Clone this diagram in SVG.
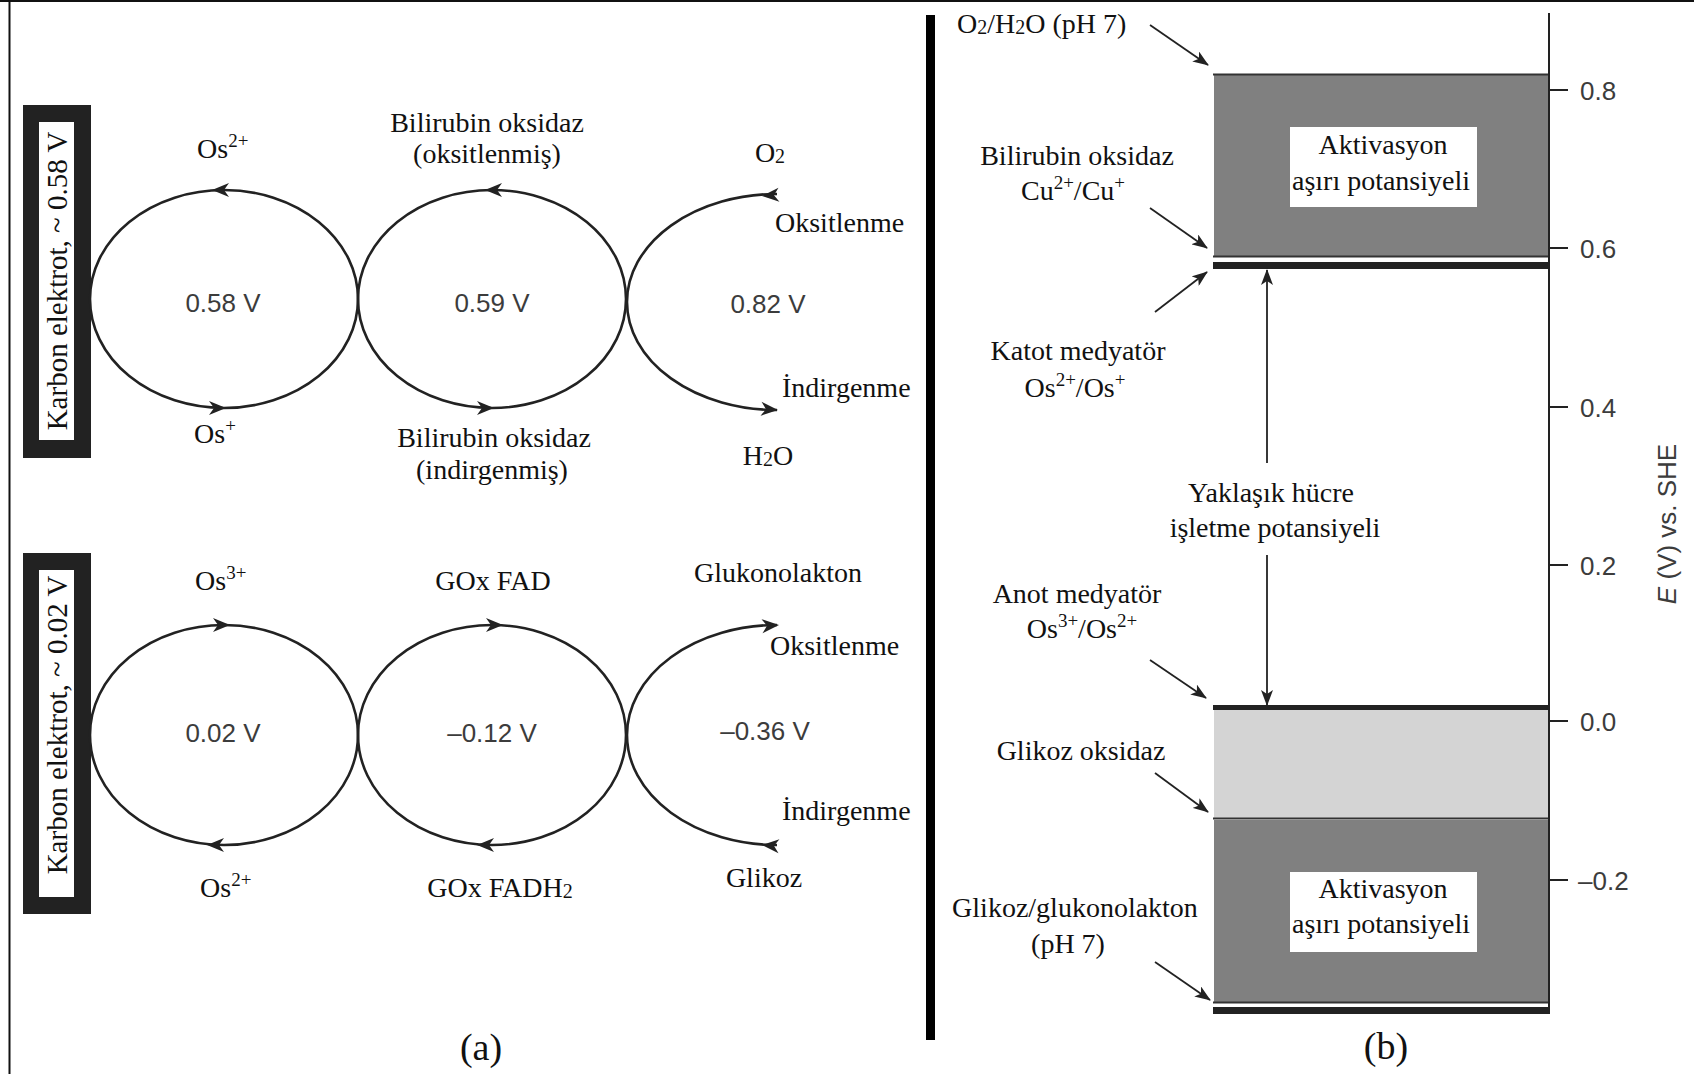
<svg xmlns="http://www.w3.org/2000/svg" xmlns:xlink="http://www.w3.org/1999/xlink" width="1694" height="1074" viewBox="0 0 1694 1074">
<style>
.s{font-family:"Liberation Serif","Times New Roman",serif;font-size:28px;fill:#111}
.n{font-family:"Liberation Sans",Arial,sans-serif;font-size:26px;fill:#3c3c3c}
.c{text-anchor:middle}
.big{font-size:38px}
.el{font-size:29px}
.cyc{fill:none;stroke:#222;stroke-width:2.6}
.ptr{stroke:#222;stroke-width:1.8;fill:none}
.sup{font-size:19px}
.sub{font-size:20px}
</style>
<defs>
<path id="ah" d="M0,0 L-17,-7 L-12,0 L-17,7 Z" fill="#222"/>
<marker id="pm" viewBox="0 0 16 12" refX="15" refY="6" markerWidth="16" markerHeight="12" markerUnits="userSpaceOnUse" orient="auto">
<path d="M0,0 L16,6 L0,12 L4,6 Z" fill="#222"/>
</marker>
</defs>
<rect width="1694" height="1074" fill="#fff"/>
<g id="frame" stroke="#111" stroke-width="2">
<line x1="0" y1="1" x2="1694" y2="1"/>
<line x1="9.5" y1="0" x2="9.5" y2="1074"/>
</g>
<g id="divider"><rect x="926" y="15" width="9" height="1025" fill="#000"/></g>

<g id="electrode-top">
<rect x="23" y="105" width="68" height="353" fill="#222"/>
<rect x="39" y="122" width="35" height="318" fill="#fff"/>
<text class="s c el" transform="translate(67,281) rotate(-90)">Karbon elektrot, ~ 0.58 V</text>
</g>
<g id="electrode-bottom">
<rect x="23" y="553" width="68" height="361" fill="#222"/>
<rect x="39" y="570" width="35" height="327" fill="#fff"/>
<text class="s c el" transform="translate(67,725) rotate(-90)">Karbon elektrot, ~ 0.02 V</text>
</g>

<g id="connectors">
<ellipse class="cyc" cx="224" cy="299" rx="134" ry="109"/>
<ellipse class="cyc" cx="492" cy="299" rx="134" ry="109"/>
<path class="cyc" d="M777,194 A150 108 0 0 0 777,410"/>
<ellipse class="cyc" cx="224" cy="735" rx="134" ry="110"/>
<ellipse class="cyc" cx="492" cy="735" rx="134" ry="110"/>
<path class="cyc" d="M777,625 A150 110 0 0 0 777,845"/>
<use xlink:href="#ah" transform="translate(212,190) rotate(180)"/>
<use xlink:href="#ah" transform="translate(226,408)"/>
<use xlink:href="#ah" transform="translate(485,190) rotate(180)"/>
<use xlink:href="#ah" transform="translate(494,408)"/>
<use xlink:href="#ah" transform="translate(762,196) rotate(176)"/>
<use xlink:href="#ah" transform="translate(778,410) rotate(4)"/>
<use xlink:href="#ah" transform="translate(230,625)"/>
<use xlink:href="#ah" transform="translate(207,845) rotate(180)"/>
<use xlink:href="#ah" transform="translate(503,625)"/>
<use xlink:href="#ah" transform="translate(477,845) rotate(180)"/>
<use xlink:href="#ah" transform="translate(779,625) rotate(-4)"/>
<use xlink:href="#ah" transform="translate(762,845) rotate(184)"/>

<line class="ptr" x1="1150" y1="25" x2="1208" y2="65" marker-end="url(#pm)"/>
<line class="ptr" x1="1150" y1="208" x2="1207" y2="248" marker-end="url(#pm)"/>
<line class="ptr" x1="1155" y1="312" x2="1207" y2="272" marker-end="url(#pm)"/>
<line class="ptr" x1="1150" y1="660" x2="1206" y2="698" marker-end="url(#pm)"/>
<line class="ptr" x1="1155" y1="773" x2="1208" y2="812" marker-end="url(#pm)"/>
<line class="ptr" x1="1155" y1="962" x2="1210" y2="1000" marker-end="url(#pm)"/>
<line class="ptr" x1="1267" y1="463" x2="1267" y2="270" marker-end="url(#pm)"/>
<line class="ptr" x1="1267" y1="555" x2="1267" y2="705" marker-end="url(#pm)"/>
</g>

<g id="cycle-top-labels">
<text class="s" x="197" y="158">Os<tspan class="sup" dy="-11">2+</tspan></text>
<text class="s c" x="487" y="132">Bilirubin oksidaz</text>
<text class="s c" x="487" y="163">(oksitlenmiş)</text>
<text class="s c" x="770" y="162">O<tspan class="sub" dy="1">2</tspan></text>
<text class="s" x="775" y="232">Oksitlenme</text>
<text class="n c" x="223" y="312">0.58 V</text>
<text class="n c" x="492" y="312">0.59 V</text>
<text class="n c" x="768" y="313">0.82 V</text>
<text class="s" x="782" y="397">İndirgenme</text>
<text class="s" x="194" y="443">Os<tspan class="sup" dy="-11">+</tspan></text>
<text class="s c" x="494" y="447">Bilirubin oksidaz</text>
<text class="s c" x="492" y="479">(indirgenmiş)</text>
<text class="s c" x="768" y="465">H<tspan class="sub" dy="1">2</tspan><tspan dy="-1">O</tspan></text>
</g>

<g id="cycle-bottom-labels">
<text class="s" x="195" y="590">Os<tspan class="sup" dy="-11">3+</tspan></text>
<text class="s c" x="493" y="590">GOx FAD</text>
<text class="s c" x="778" y="582">Glukonolakton</text>
<text class="s" x="770" y="655">Oksitlenme</text>
<text class="n c" x="223" y="742">0.02 V</text>
<text class="n c" x="492" y="742">–0.12 V</text>
<text class="n c" x="765" y="740">–0.36 V</text>
<text class="s" x="782" y="820">İndirgenme</text>
<text class="s" x="200" y="897">Os<tspan class="sup" dy="-11">2+</tspan></text>
<text class="s c" x="500" y="897">GOx FADH<tspan class="sub" dy="1">2</tspan></text>
<text class="s c" x="764" y="887">Glikoz</text>
</g>

<g id="caption-a"><text class="s c big" x="481" y="1060">(a)</text></g>
<g id="caption-b"><text class="s c big" x="1386" y="1059">(b)</text></g>

<g id="cathode-band">
<rect x="1214" y="74" width="336" height="183" fill="#808080"/>
<line x1="1213" y1="74.5" x2="1550" y2="74.5" stroke="#333" stroke-width="2"/>
<line x1="1213" y1="256.5" x2="1550" y2="256.5" stroke="#333" stroke-width="2"/>
<rect x="1213" y="262" width="337" height="7" fill="#222"/>
<rect x="1290" y="127" width="187" height="80" fill="#fff"/>
<text class="s c" x="1383" y="154">Aktivasyon</text>
<text class="s c" x="1381" y="190">aşırı potansiyeli</text>
</g>
<g id="anode-band">
<rect x="1214" y="710" width="336" height="108" fill="#d4d4d4"/>
<rect x="1213" y="705" width="337" height="5" fill="#222"/>
<line x1="1213" y1="818.5" x2="1550" y2="818.5" stroke="#333" stroke-width="2"/>
<rect x="1214" y="820" width="336" height="182" fill="#808080"/>
<line x1="1213" y1="1002.5" x2="1550" y2="1002.5" stroke="#333" stroke-width="2"/>
<rect x="1213" y="1007" width="337" height="7" fill="#222"/>
<rect x="1290" y="872" width="187" height="80" fill="#fff"/>
<text class="s c" x="1383" y="898">Aktivasyon</text>
<text class="s c" x="1381" y="933">aşırı potansiyeli</text>
</g>

<g id="axis" stroke="#222" stroke-width="2">
<line x1="1549" y1="13" x2="1549" y2="1013"/>
<line x1="1549" y1="90" x2="1568" y2="90"/>
<line x1="1549" y1="248" x2="1568" y2="248"/>
<line x1="1549" y1="407" x2="1568" y2="407"/>
<line x1="1549" y1="565" x2="1568" y2="565"/>
<line x1="1549" y1="721" x2="1568" y2="721"/>
<line x1="1549" y1="880" x2="1568" y2="880"/>
</g>
<g id="axis-labels">
<text class="n" x="1580" y="100">0.8</text>
<text class="n" x="1580" y="258">0.6</text>
<text class="n" x="1580" y="417">0.4</text>
<text class="n" x="1580" y="575">0.2</text>
<text class="n" x="1580" y="731">0.0</text>
<text class="n" x="1578" y="890">–0.2</text>
<text class="n c" transform="translate(1676,524) rotate(-90)"><tspan font-style="italic">E</tspan> (V) vs. SHE</text>
</g>

<g id="level-labels">
<text class="s" x="957" y="33">O<tspan class="sub" dy="1">2</tspan><tspan dy="-1">/H</tspan><tspan class="sub" dy="1">2</tspan><tspan dy="-1">O (pH 7)</tspan></text>
<text class="s c" x="1077" y="165">Bilirubin oksidaz</text>
<text class="s c" x="1073" y="200">Cu<tspan class="sup" dy="-11">2+</tspan><tspan dy="11">/Cu</tspan><tspan class="sup" dy="-11">+</tspan></text>
<text class="s c" x="1078" y="360">Katot medyatör</text>
<text class="s c" x="1075" y="397">Os<tspan class="sup" dy="-11">2+</tspan><tspan dy="11">/Os</tspan><tspan class="sup" dy="-11">+</tspan></text>
<text class="s c" x="1271" y="502">Yaklaşık hücre</text>
<text class="s c" x="1275" y="537">işletme potansiyeli</text>
<text class="s c" x="1077" y="603">Anot medyatör</text>
<text class="s c" x="1082" y="638">Os<tspan class="sup" dy="-11">3+</tspan><tspan dy="11">/Os</tspan><tspan class="sup" dy="-11">2+</tspan></text>
<text class="s c" x="1081" y="760">Glikoz oksidaz</text>
<text class="s c" x="1075" y="917">Glikoz/glukonolakton</text>
<text class="s c" x="1068" y="953">(pH 7)</text>
</g>
</svg>
